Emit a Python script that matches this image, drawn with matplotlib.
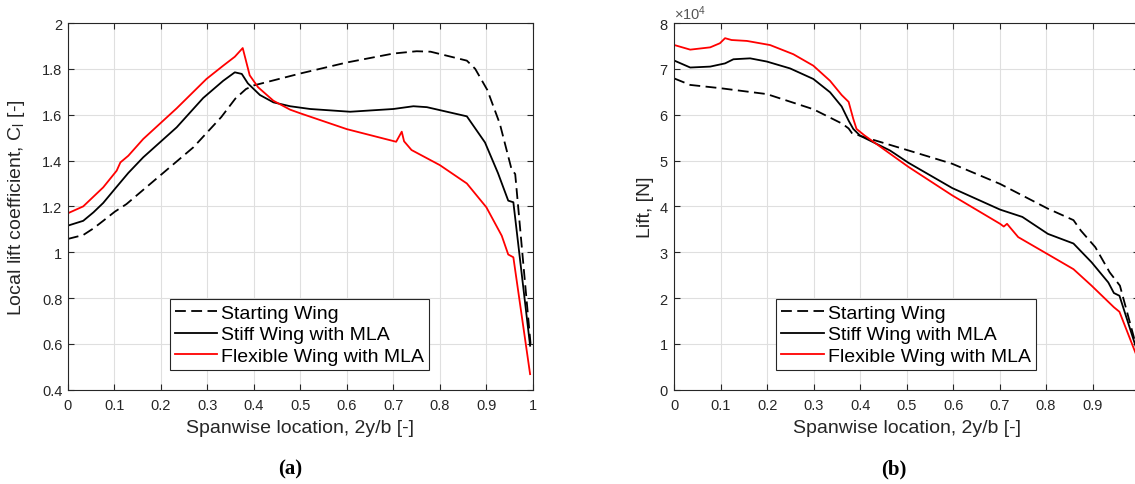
import numpy as np
import matplotlib
matplotlib.use('Agg')
import matplotlib.pyplot as plt
from matplotlib.ticker import FuncFormatter, ScalarFormatter, MultipleLocator

plt.rcParams['font.family'] = ['Liberation Sans', 'DejaVu Sans']
plt.rcParams['mathtext.fontset'] = 'custom'
plt.rcParams['mathtext.rm'] = 'Liberation Sans'
plt.rcParams['mathtext.it'] = 'Liberation Sans:italic'

# ---- (a) local lift coefficient ----
start_x = [0, 0.033, 0.055, 0.076, 0.101, 0.126, 0.198, 0.27, 0.33, 0.36, 0.383, 0.40,
           0.5, 0.6, 0.7, 0.75, 0.78, 0.858, 0.876, 0.902, 0.929, 0.954, 0.962, 0.995]
start_cl = [1.058, 1.075, 1.104, 1.137, 1.177, 1.21, 1.334, 1.458, 1.59, 1.67, 1.712, 1.728,
            1.78, 1.828, 1.867, 1.877, 1.875, 1.836, 1.80, 1.708, 1.56, 1.363, 1.341, 0.60]

stiff_x = [0, 0.033, 0.055, 0.076, 0.101, 0.13, 0.162, 0.234, 0.291, 0.334, 0.359, 0.374,
           0.387, 0.413, 0.442, 0.478, 0.521, 0.607, 0.7, 0.743, 0.772, 0.858, 0.897, 0.925,
           0.947, 0.958, 0.994]
stiff_cl = [1.116, 1.137, 1.174, 1.215, 1.276, 1.346, 1.414, 1.545, 1.673, 1.748, 1.785, 1.778,
            1.737, 1.686, 1.654, 1.637, 1.625, 1.613, 1.625, 1.637, 1.633, 1.593, 1.479, 1.345,
            1.225, 1.218, 0.592]

flex_x = [0, 0.033, 0.076, 0.105, 0.113, 0.13, 0.162, 0.234, 0.298, 0.334, 0.359, 0.376,
          0.391, 0.409, 0.442, 0.478, 0.5, 0.6, 0.706, 0.718, 0.723, 0.739, 0.8, 0.858,
          0.9, 0.933, 0.947, 0.958, 0.994]
flex_cl = [1.17, 1.2, 1.283, 1.356, 1.392, 1.421, 1.494, 1.628, 1.756, 1.814, 1.853, 1.891,
           1.772, 1.72, 1.661, 1.622, 1.606, 1.537, 1.482, 1.526, 1.484, 1.446, 1.38, 1.30,
           1.196, 1.072, 0.99, 0.978, 0.468]

# ---- (b) lift [N] ----
lift_start_x = [0, 0.034, 0.098, 0.199, 0.299, 0.362, 0.375, 0.382, 0.409, 0.504, 0.598,
                0.701, 0.804, 0.859, 0.875, 0.906, 0.937, 0.959, 0.995]
lift_start = np.array([6.79, 6.65, 6.58, 6.45, 6.12, 5.80, 5.70, 5.60, 5.51, 5.22, 4.93,
                       4.49, 3.95, 3.70, 3.47, 3.11, 2.56, 2.27, 0.92]) * 1e4

lift_stiff_x = [0, 0.034, 0.077, 0.109, 0.127, 0.163, 0.199, 0.249, 0.299, 0.335, 0.36,
                0.375, 0.385, 0.4, 0.464, 0.504, 0.598, 0.701, 0.749, 0.804, 0.859, 0.898,
                0.934, 0.946, 0.958, 0.995]
lift_stiff = np.array([7.18, 7.03, 7.05, 7.12, 7.21, 7.23, 7.16, 7.01, 6.78, 6.49, 6.18,
                       5.87, 5.69, 5.54, 5.22, 4.95, 4.40, 3.93, 3.77, 3.40, 3.19, 2.78,
                       2.34, 2.11, 2.05, 0.88]) * 1e4

lift_flex_x = [0, 0.034, 0.077, 0.098, 0.109, 0.123, 0.156, 0.206, 0.256, 0.299, 0.335,
               0.36, 0.375, 0.385, 0.392, 0.409, 0.464, 0.504, 0.598, 0.701, 0.709, 0.716,
               0.725, 0.74, 0.803, 0.859, 0.898, 0.946, 0.958, 0.995]
lift_flex = np.array([7.52, 7.42, 7.47, 7.56, 7.67, 7.63, 7.61, 7.52, 7.32, 7.07, 6.74,
                      6.43, 6.28, 5.91, 5.69, 5.55, 5.15, 4.86, 4.24, 3.62, 3.56, 3.62,
                      3.51, 3.33, 2.96, 2.63, 2.27, 1.80, 1.70, 0.74]) * 1e4

labels = ['Starting Wing', 'Stiff Wing with MLA', 'Flexible Wing with MLA']
txt = '#262626'

fig = plt.figure(figsize=(11.35, 4.85), dpi=100)
ax1 = fig.add_axes([0.0598, 0.1944, 0.4097, 0.756])
ax2 = fig.add_axes([0.5942, 0.1944, 0.4093, 0.756])


def style(ax):
    ax.grid(True, color='#dfdfdf', lw=0.8)
    ax.set_axisbelow(True)
    ax.tick_params(direction='in', top=True, right=True, length=4, width=0.8,
                   colors=txt, labelsize=10.5)
    ax.tick_params(axis='x', pad=6)
    ax.tick_params(axis='y', pad=4)
    for s in ax.spines.values():
        s.set_color(txt)
        s.set_linewidth(0.8)
    ax.set_xlim(0, 1)
    ax.xaxis.set_major_locator(MultipleLocator(0.1))
    ax.xaxis.set_major_formatter(FuncFormatter(lambda v, p: f'{v:g}'))
    ax.set_xlabel('Spanwise location, 2y/b [-]', fontsize=14, color=txt)
    ax.xaxis.set_label_coords(0.5, -0.080)


def add_legend(ax):
    leg = ax.legend(loc='lower left', bbox_to_anchor=(0.219, 0.0545), borderaxespad=0,
                    fontsize=14, fancybox=False, framealpha=1, edgecolor=txt,
                    handlelength=2.2, handletextpad=0.2, labelspacing=0.2, borderpad=0.25)
    leg.get_frame().set_linewidth(0.8)


# (a)
ax1.plot(start_x, start_cl, color='k', lw=1.3, dashes=(6, 3), label=labels[0])
ax1.plot(stiff_x, stiff_cl, color='k', lw=1.3, label=labels[1])
ax1.plot(flex_x, flex_cl, color='r', lw=1.3, label=labels[2])
style(ax1)
ax1.set_ylim(0.4, 2)
ax1.yaxis.set_major_locator(MultipleLocator(0.2))
ax1.yaxis.set_major_formatter(FuncFormatter(lambda v, p: f'{v:g}'))
ax1.set_ylabel(r'Local lift coefficient, C$_\mathregular{l}$ [-]', fontsize=14, color=txt)
ax1.yaxis.set_label_coords(-0.088, 0.5)
add_legend(ax1)

# (b)
ax2.plot(lift_start_x, lift_start, color='k', lw=1.3, dashes=(6, 3), label=labels[0])
ax2.plot(lift_stiff_x, lift_stiff, color='k', lw=1.3, label=labels[1])
ax2.plot(lift_flex_x, lift_flex, color='r', lw=1.3, label=labels[2])
style(ax2)
# right edge of panel (b) falls off the page, so its "1" label is not shown
ax2.xaxis.set_major_formatter(FuncFormatter(lambda v, p: f'{v:g}' if v < 0.95 else ''))
ax2.set_ylim(0, 8e4)
ax2.yaxis.set_major_locator(MultipleLocator(1e4))
fmt = ScalarFormatter(useMathText=True)
fmt.set_powerlimits((0, 0))
ax2.yaxis.set_major_formatter(fmt)
ax2.yaxis.get_offset_text().set_fontsize(10.5)
ax2.yaxis.get_offset_text().set_color('#555555')
ax2.set_ylabel('Lift, [N]', fontsize=14, color=txt)
ax2.yaxis.set_label_coords(-0.044, 0.5)
add_legend(ax2)

fig.text(290 / 1135, 1 - 469 / 485, '(a)', ha='center', va='center',
         family='Liberation Serif', weight='bold', fontsize=15)
fig.text(894 / 1135, 1 - 469 / 485, '(b)', ha='center', va='center',
         family='Liberation Serif', weight='bold', fontsize=15)

fig.savefig('out.png', dpi=100)
